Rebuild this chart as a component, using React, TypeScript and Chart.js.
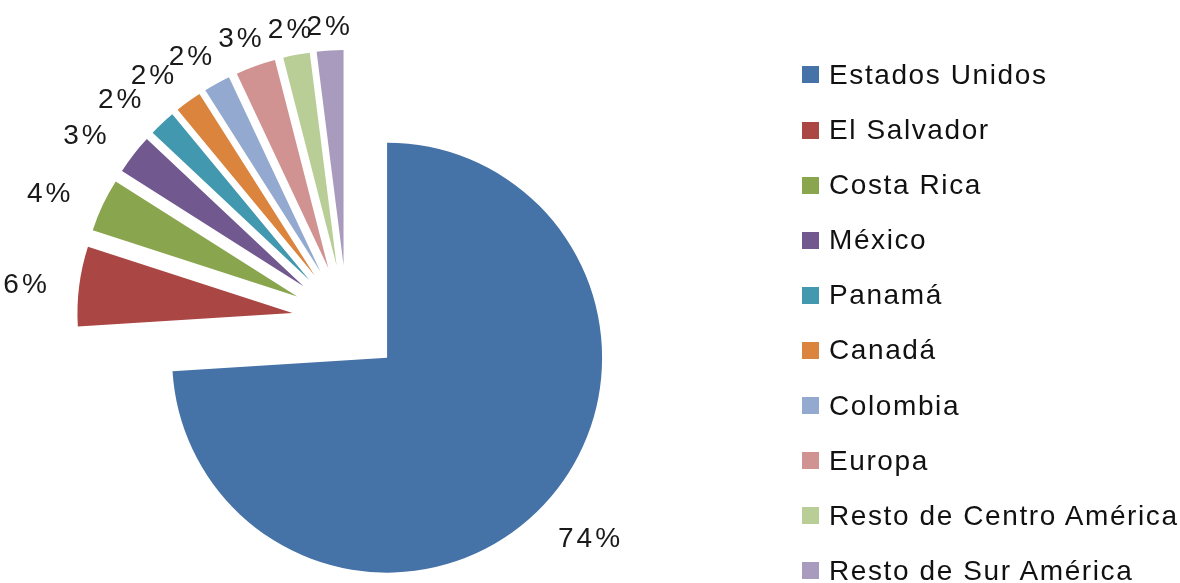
import React, { useEffect, useRef } from 'react';
import { Chart, registerables } from 'chart.js';

Chart.register(...registerables);

const categories = [
  'Estados Unidos',
  'El Salvador',
  'Costa Rica',
  'México',
  'Panamá',
  'Canadá',
  'Colombia',
  'Europa',
  'Resto de Centro América',
  'Resto de Sur América',
];
const values = [74, 6, 4, 3, 2, 2, 2, 3, 2, 2];
const pctLabels = ['74%', '6%', '4%', '3%', '2%', '2%', '2%', '3%', '2%', '2%'];
const colors = [
  '#4572A7',
  '#AA4643',
  '#89A54E',
  '#71588F',
  '#4198AF',
  '#DB843D',
  '#93A9CF',
  '#D19392',
  '#B9CD96',
  '#A99BBD',
];

const W = 1180;
const H = 583;
const EXPLODE = 55; // px each slice is pulled out from the centre
const RADIUS = 215;
const FONT = '"Liberation Sans", Arial, Helvetica, sans-serif';

// Draw every arc element (via the library's own ArcElement.draw), pulled out along its bisector
const explodePlugin = {
  id: 'explode',
  beforeDatasetDraw(chart: any, args: any) {
    const ctx = chart.ctx as CanvasRenderingContext2D;
    const meta = chart.getDatasetMeta(args.index);
    meta.data.forEach((arc: any) => {
      const mid = (arc.startAngle + arc.endAngle) / 2;
      ctx.save();
      ctx.translate(Math.cos(mid) * EXPLODE, Math.sin(mid) * EXPLODE);
      arc.draw(ctx);
      ctx.restore();
    });
    return false;
  },
};

const labelPlugin = {
  id: 'pctLabels',
  afterDatasetsDraw(chart: any) {
    const ctx = chart.ctx as CanvasRenderingContext2D;
    const meta = chart.getDatasetMeta(0);
    ctx.save();
    ctx.font = `28px ${FONT}`;
    ctx.fillStyle = '#1a1a1a';
    ctx.textAlign = 'center';
    ctx.textBaseline = 'alphabetic';
    (ctx as any).letterSpacing = '3px';
    meta.data.forEach((arc: any, i: number) => {
      const p = arc.getProps(['x', 'y', 'startAngle', 'endAngle', 'outerRadius'], true);
      const mid = (p.startAngle + p.endAngle) / 2;
      const dx = Math.cos(mid);
      const dy = Math.sin(mid);
      const vx = p.x + dx * EXPLODE;
      const vy = p.y + dy * EXPLODE;
      const dist = p.outerRadius + 24 + 10 * Math.abs(Math.sin(2 * mid));
      const halfW = 28 * Math.min(1, Math.abs(dx) / 0.6);
      const lx = vx + dx * (dist + halfW);
      const ly = vy + dy * dist + 13 * Math.max(0, dy);
      ctx.fillText(pctLabels[i], lx + 1.5, ly + 10);
    });
    ctx.restore();
  },
};

export default function App() {
  const canvasRef = useRef<HTMLCanvasElement | null>(null);

  useEffect(() => {
    if (!canvasRef.current) return;
    const chart = new Chart(canvasRef.current, {
      type: 'pie',
      data: {
        labels: categories,
        datasets: [
          {
            data: values,
            backgroundColor: colors,
            borderWidth: 0,
          },
        ],
      },
      options: {
        animation: false,
        responsive: false,
        maintainAspectRatio: false,
        radius: RADIUS,
        layout: { padding: { left: 0, right: 486, top: 57, bottom: 0 } },
        plugins: {
          legend: { display: false },
          tooltip: { enabled: false },
        },
        events: [],
      } as any,
      plugins: [explodePlugin, labelPlugin],
    });
    return () => chart.destroy();
  }, []);

  const rowH = 55.1;
  const firstCenter = 75;

  return (
    <div
      style={{
        position: 'fixed',
        left: 0,
        top: 0,
        width: W,
        height: H,
        background: '#ffffff',
        overflow: 'hidden',
      }}
    >
      <canvas ref={canvasRef} width={W} height={H} style={{ position: 'absolute', left: 0, top: 0, width: W, height: H }} />
      {categories.map((name, i) => (
        <div
          key={name}
          style={{
            position: 'absolute',
            left: 802,
            top: firstCenter + rowH * i - rowH / 2,
            height: rowH,
            display: 'flex',
            alignItems: 'center',
            whiteSpace: 'nowrap',
            fontFamily: FONT,
            fontSize: 28,
            letterSpacing: '1.6px',
            color: '#111111',
          }}
        >
          <span style={{ display: 'inline-block', width: 17, height: 17, background: colors[i], marginRight: 10 }} />
          <span>{name}</span>
        </div>
      ))}
    </div>
  );
}
